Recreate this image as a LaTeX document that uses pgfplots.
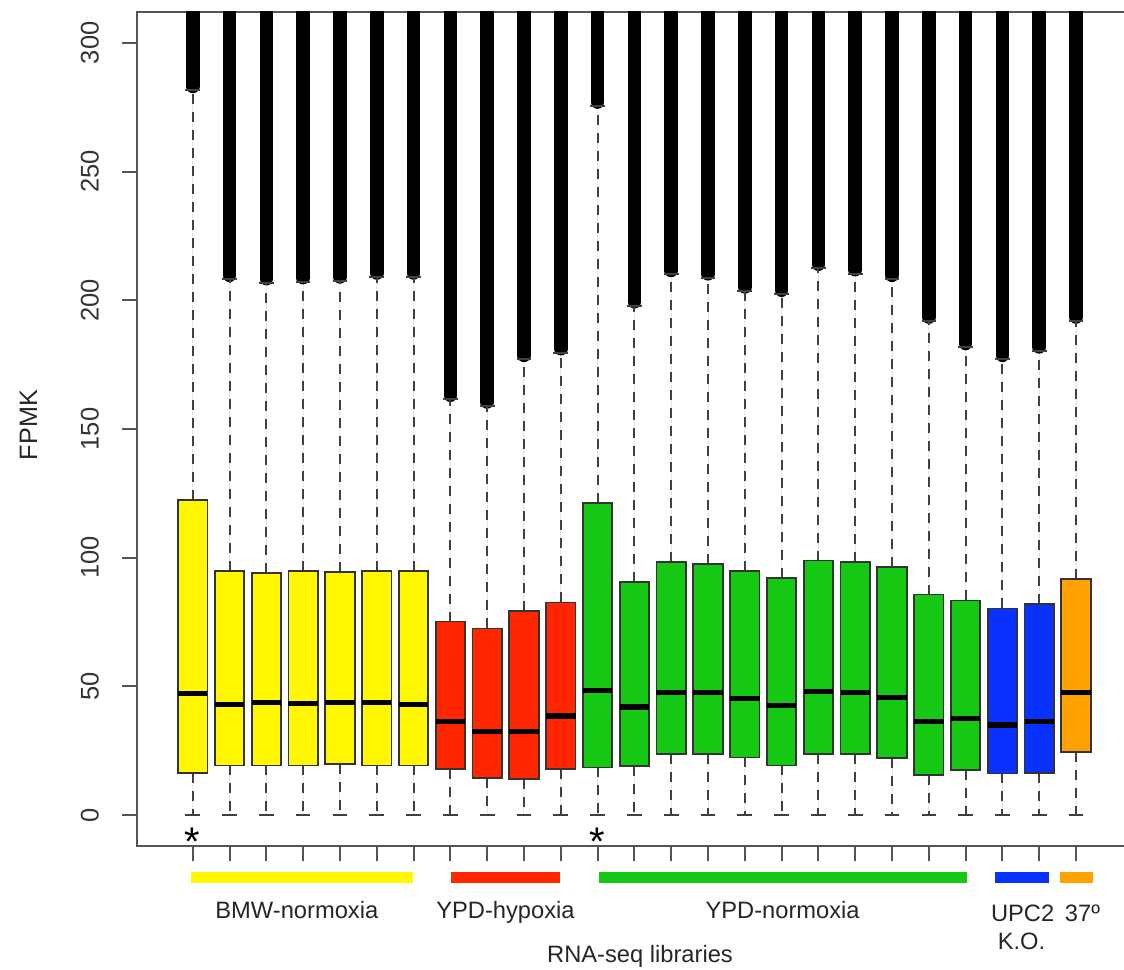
\documentclass[border=0pt]{standalone}
\usepackage{fontspec}
\setmainfont{Liberation Sans}
\usepackage{pgfplots}
\pgfplotsset{compat=1.18}
\usepgfplotslibrary{statistics}
\definecolor{cyel}{HTML}{FFF700}
\definecolor{cred}{HTML}{FF2600}
\definecolor{cgrn}{HTML}{14C814}
\definecolor{cblu}{HTML}{0A32FF}
\definecolor{corg}{HTML}{FFA200}
\definecolor{axc}{HTML}{555555}
\definecolor{boxc}{HTML}{333333}
\newcommand{\rbox}[6]{\addplot[boxplot prepared={draw position=#1, lower whisker=0, lower quartile=#2, median=#3, upper quartile=#4, upper whisker=#5}, fill=#6, draw=boxc] coordinates {};}
\begin{document}
\begin{tikzpicture}
\useasboundingbox (-68.75pt,-61.5pt) rectangle (493.25pt,423pt);
\begin{axis}[
  at={(0,0)}, anchor=south west, scale only axis,
  width=496.9pt, height=417pt,
  xmin=-0.5, xmax=26.5, ymin=-12, ymax=312,
  clip mode=individual,
  axis line style={axc, line width=1pt},
  tick style={axc, line width=1pt},
  tick align=outside, major tick length=7.5pt,
  xtick={1,...,25}, xticklabels={},
  ytick={0,50,...,300},
  xtick pos=lower, ytick pos=left,
  /pgf/number format/assume math mode=true,
  yticklabel style={rotate=90, anchor=south, inner sep=0pt, font=\fontsize{12.75}{15}\selectfont, text=black!80},
  yticklabel shift=11.6pt,
  boxplot/draw direction=y,
  boxplot/box extend=0.8,
  boxplot/whisker extend=0.4,
  boxplot/every box/.style={draw=boxc, line width=0.9pt},
  boxplot/every median/.style={draw=black, line width=2.6pt},
  boxplot/draw/lower whisker/.code={%
    \draw[black!75, line width=1pt, dash pattern=on 5pt off 4pt]
      (boxplot cs:\pgfplotsboxplotvalue{lower quartile}) -- (boxplot cs:\pgfplotsboxplotvalue{lower whisker});
    \draw[black!75, line width=1pt, solid]
      (boxplot whisker cs:\pgfplotsboxplotvalue{lower whisker},0) -- (boxplot whisker cs:\pgfplotsboxplotvalue{lower whisker},1);
  },
  boxplot/draw/upper whisker/.code={%
    \draw[black!75, line width=1pt, dash pattern=on 5pt off 4pt]
      (boxplot cs:\pgfplotsboxplotvalue{upper quartile}) -- (boxplot cs:\pgfplotsboxplotvalue{upper whisker});
    \draw[black!75, line width=1pt, solid]
      (boxplot whisker cs:\pgfplotsboxplotvalue{upper whisker},0) -- (boxplot whisker cs:\pgfplotsboxplotvalue{upper whisker},1);
  },
]
% outliers (dense columns of circles) from the lowest outlier upwards
\addplot[black, line width=6.8pt, line cap=round, unbounded coords=jump, forget plot] coordinates {
(1,283.1) (1,330) (1,nan)
(2,209.7) (2,330) (2,nan)
(3,208.4) (3,330) (3,nan)
(4,208.8) (4,330) (4,nan)
(5,209.1) (5,330) (5,nan)
(6,210.6) (6,330) (6,nan)
(7,210.6) (7,330) (7,nan)
(8,163.1) (8,330) (8,nan)
(9,160.5) (9,330) (9,nan)
(10,178.6) (10,330) (10,nan)
(11,181.2) (11,330) (11,nan)
(12,277.0) (12,330) (12,nan)
(13,199.4) (13,330) (13,nan)
(14,211.6) (14,330) (14,nan)
(15,210.3) (15,330) (15,nan)
(16,205.2) (16,330) (16,nan)
(17,203.9) (17,330) (17,nan)
(18,214.0) (18,330) (18,nan)
(19,211.9) (19,330) (19,nan)
(20,209.7) (20,330) (20,nan)
(21,193.5) (21,330) (21,nan)
(22,183.2) (22,330) (22,nan)
(23,178.6) (23,330) (23,nan)
(24,181.9) (24,330) (24,nan)
(25,193.5) (25,330)
};
% position, Q1, median, Q3, upper whisker, colour
\rbox{1}{16.4}{47.3}{122.4}{281.6}{cyel}
\rbox{2}{19.3}{43.0}{94.9}{208.2}{cyel}
\rbox{3}{19.3}{43.8}{94.1}{206.9}{cyel}
\rbox{4}{19.3}{43.5}{94.9}{207.3}{cyel}
\rbox{5}{19.8}{43.9}{94.4}{207.6}{cyel}
\rbox{6}{19.3}{43.9}{94.9}{209.1}{cyel}
\rbox{7}{19.3}{43.0}{94.9}{209.1}{cyel}
\rbox{8}{18.0}{36.5}{75.2}{161.6}{cred}
\rbox{9}{14.5}{32.5}{72.5}{159.0}{cred}
\rbox{10}{14.1}{32.6}{79.4}{177.1}{cred}
\rbox{11}{18.0}{38.5}{82.6}{179.7}{cred}
\rbox{12}{18.5}{48.4}{121.1}{275.5}{cgrn}
\rbox{13}{19.0}{42.0}{90.6}{197.9}{cgrn}
\rbox{14}{23.7}{47.7}{98.3}{210.1}{cgrn}
\rbox{15}{23.7}{47.7}{97.5}{208.8}{cgrn}
\rbox{16}{22.4}{45.3}{94.9}{203.7}{cgrn}
\rbox{17}{19.3}{42.5}{92.0}{202.4}{cgrn}
\rbox{18}{23.7}{47.9}{98.9}{212.5}{cgrn}
\rbox{19}{23.7}{47.7}{98.3}{210.4}{cgrn}
\rbox{20}{22.1}{45.7}{96.3}{208.2}{cgrn}
\rbox{21}{15.7}{36.3}{85.7}{192.0}{cgrn}
\rbox{22}{17.4}{37.6}{83.4}{181.7}{cgrn}
\rbox{23}{16.2}{35.0}{80.3}{177.1}{cblu}
\rbox{24}{16.4}{36.3}{82.1}{180.4}{cblu}
\rbox{25}{24.6}{47.7}{91.6}{192.0}{corg}
% annotations
\node[anchor=north, inner sep=0pt, font=\fontsize{20}{24}\selectfont] at (axis cs:1,-4.8) {*};
\node[anchor=north, inner sep=0pt, font=\fontsize{20}{24}\selectfont] at (axis cs:12,-4.8) {*};
\draw[cyel, line width=5.5pt] (axis cs:0.945,-24.24) -- (axis cs:6.977,-24.24);
\draw[cred, line width=5.5pt] (axis cs:8.009,-24.24) -- (axis cs:10.979,-24.24);
\draw[cgrn, line width=5.5pt] (axis cs:12.03,-24.24) -- (axis cs:22.03,-24.24);
\draw[cblu, line width=5.5pt] (axis cs:22.80,-24.24) -- (axis cs:24.26,-24.24);
\draw[corg, line width=5.5pt] (axis cs:24.56,-24.24) -- (axis cs:25.45,-24.24);
\begin{scope}[every node/.style={anchor=base, inner sep=0pt, font=\fontsize{11.85}{14}\selectfont, text=black!85}]
\node at (axis cs:3.828,-39.98) {BMW-normoxia};
\node at (axis cs:9.498,-39.98) {YPD-hypoxia};
\node at (axis cs:17.027,-39.98) {YPD-normoxia};
\node at (axis cs:23.547,-41.14) {UPC2};
\node at (axis cs:25.174,-41.14) {37º};
\node at (axis cs:23.517,-52.4) {K.O.};
\node at (axis cs:13.152,-57.07) {RNA-seq libraries};
\node[rotate=90, font=\fontsize{12.6}{15}\selectfont] at (axis cs:-3.23,151.5) {FPMK};
\end{scope}
\end{axis}
\end{tikzpicture}
\end{document}
